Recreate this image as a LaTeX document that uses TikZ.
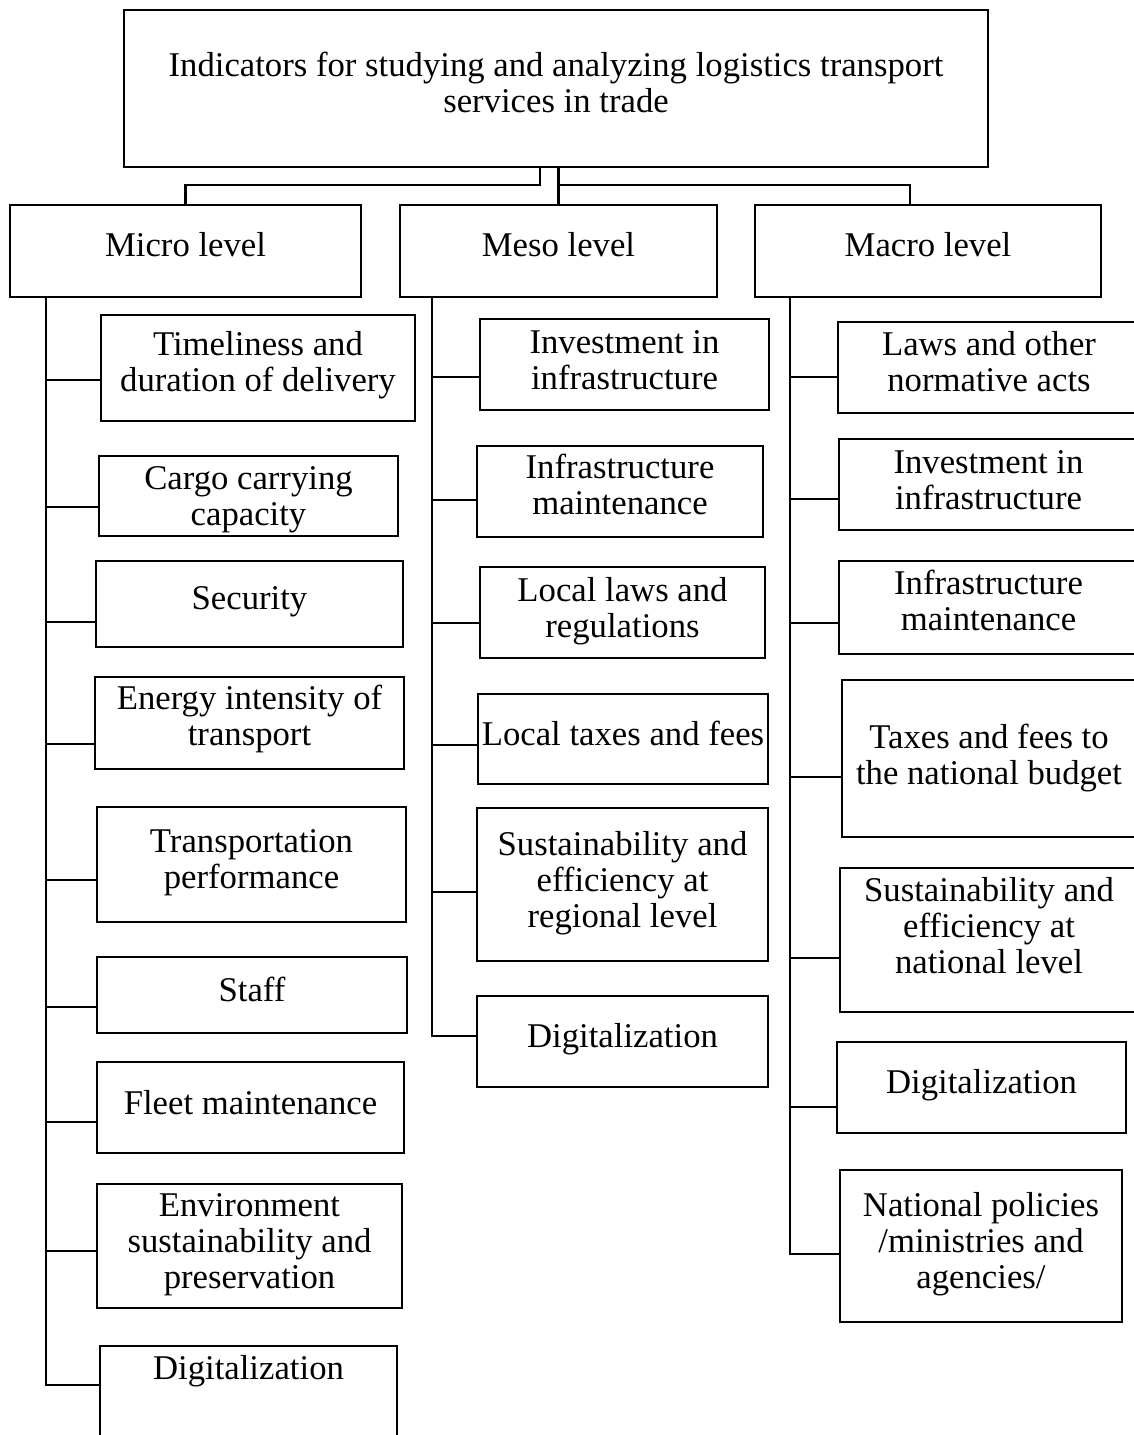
\documentclass[tikz,border=0pt]{standalone}
\usepackage{fontspec}
\setmainfont{Liberation Serif}
\newcommand\Bx[8][0]{\node[box, minimum width=#5, minimum height=#6, label={[txt, yshift=#7pt, xshift=#1pt]center:{#8}}] (#2) at (#3,#4) {};}
\begin{document}
\begin{tikzpicture}[x=1pt,y=-1pt,
  box/.style={draw, line width=2.2pt, inner sep=0pt},
  txt/.style={inner sep=0pt, align=center, font=\fontsize{34.7}{36}\selectfont},
  conn/.style={line width=2.2pt}]
\useasboundingbox (0,0) rectangle (1133,1435);
% top
\Bx{top}{556}{88.5}{864}{157}{6}{Indicators for studying and analyzing logistics transport\\services in trade}
\Bx{micro}{185.5}{251}{351}{92}{6}{Micro level}
\Bx{meso}{558.5}{251}{317}{92}{6}{Meso level}
\Bx{macro}{928}{251}{346}{92}{6}{Macro level}
\draw[conn] (top.south -| 540,0) -- (540,185) -| (micro.north);
\draw[conn] (top.south -| meso.north) -- (meso.north);
\draw[conn] (meso.north |- 0,185) -| ([xshift=-18pt]macro.north);
% micro
\Bx{mi1}{258}{368}{314}{106}{2.5}{Timeliness and\\duration of delivery}
\Bx{mi2}{248.5}{496}{299}{80}{-4}{Cargo carrying\\capacity}
\Bx{mi3}{249.5}{604}{307}{86}{2}{Security}
\Bx{mi4}{249.5}{723}{309}{92}{4.5}{Energy intensity of\\transport}
\Bx{mi5}{251.5}{864.5}{309}{115}{2}{Transportation\\performance}
\Bx{mi6}{252}{995}{310}{76}{6}{Staff}
\Bx{mi7}{250.5}{1107.5}{307}{91}{5}{Fleet maintenance}
\Bx{mi8}{249.5}{1246}{305}{124}{1}{Environment\\sustainability and\\preservation}
\node[box, txt, minimum width=297, text height=33pt, text depth=100pt, anchor=north] (mi9) at (248.5,1345) {Digitalization};
\draw[conn] (micro.south -| 46,0) -- (46,1385) -- (mi9.west |- 0,1385);
\foreach \n/\y in {mi1/380, mi2/507, mi3/622, mi4/744, mi5/880, mi6/1007, mi7/1122, mi8/1251}
  \draw[conn] (46,\y) -- (\n.west |- 0,\y);
% meso
\Bx{me1}{624.5}{364.5}{289}{91}{4}{Investment in\\infrastructure}
\Bx{me2}{620}{491.5}{286}{91}{7}{Infrastructure\\maintenance}
\Bx{me3}{622.5}{612.5}{285}{91}{1}{Local laws and\\regulations}
\Bx{me4}{623}{739}{290}{90}{6}{Local taxes and fees}
\Bx{me5}{622.5}{884.5}{291}{153}{1}{Sustainability and\\efficiency at\\regional level}
\Bx{me6}{622.5}{1041.5}{291}{91}{2}{Digitalization}
\draw[conn] (meso.south -| 432,0) -- (432,1036) -- (me6.west |- 0,1036);
\foreach \n/\y in {me1/377, me2/500, me3/623, me4/745, me5/892}
  \draw[conn] (432,\y) -- (\n.west |- 0,\y);
% macro
\Bx[-10]{ma1}{999}{367.5}{322}{91}{6}{Laws and other\\normative acts}
\Bx[-11]{ma2}{999.5}{484.5}{321}{91}{4}{Investment in\\infrastructure}
\Bx[-11]{ma3}{999.5}{607.5}{321}{93}{7}{Infrastructure\\maintenance}
\Bx[-12]{ma4}{1001}{758.5}{318}{157}{0}{Taxes and fees to\\the national budget}
\Bx[-11]{ma5}{1000}{940}{320}{144}{14}{Sustainability and\\efficiency at\\national level}
\Bx{ma6}{981.5}{1087.5}{289}{91}{2}{Digitalization}
\Bx{ma7}{981}{1246}{282}{152}{2}{National policies\\/ministries and\\agencies/}
\draw[conn] (macro.south -| 790,0) -- (790,1254) -- (ma7.west |- 0,1254);
\foreach \n/\y in {ma1/377, ma2/499, ma3/623, ma4/777, ma5/958, ma6/1107}
  \draw[conn] (790,\y) -- (\n.west |- 0,\y);
\end{tikzpicture}
\end{document}
